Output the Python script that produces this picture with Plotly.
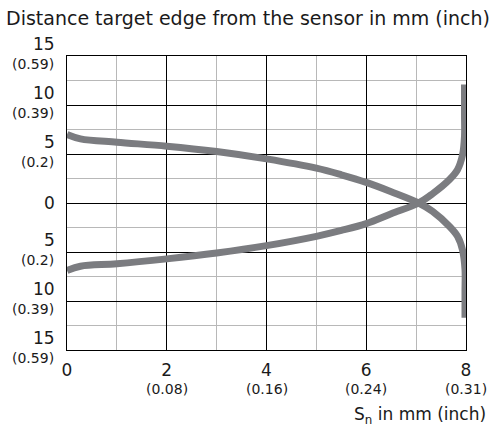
import plotly.graph_objects as go

# Curve falling from upper-left, crossing, and dropping down at x≈8
x_falling = [0, 0.27, 1, 2, 3, 4, 5, 5.5, 6, 6.5, 7.05, 7.33, 7.67, 7.83, 7.93, 7.98, 7.98, 7.98]
y_falling = [7.0, 6.55, 6.2, 5.8, 5.25, 4.5, 3.55, 2.88, 2.1, 1.15, 0.0, -0.85, -2.4, -3.4, -4.8, -6.8, -9.0, -11.7]

# Curve rising from lower-left, crossing, and going up at x≈8
x_rising = [0, 0.27, 1, 2, 3, 4, 5, 5.5, 6, 6.5, 7.05, 7.33, 7.67, 7.83, 7.93, 7.97, 7.97, 7.97]
y_rising = [-6.9, -6.45, -6.2, -5.7, -5.1, -4.35, -3.4, -2.8, -2.1, -1.1, 0.0, 0.95, 2.4, 3.4, 4.9, 6.8, 9.0, 12.1]

x_tick_vals = [0, 2, 4, 6, 8]
x_tick_mm = ["0", "2", "4", "6", "8"]
x_tick_inch = ["", "(0.08)", "(0.16)", "(0.24)", "(0.31)"]

y_tick_vals = [15, 10, 5, 0, -5, -10, -15]
y_tick_mm = ["15", "10", "5", "0", "5", "10", "15"]
y_tick_inch = ["(0.59)", "(0.39)", "(0.2)", "", "(0.2)", "(0.39)", "(0.59)"]

title_text = "Distance target edge from the sensor in mm (inch)"
x_title_text = "S<sub>n</sub> in mm (inch)"

FONT = "DejaVu Sans, Liberation Sans, sans-serif"
TXT = "#1a1a1a"
line_color = "#7b7c80"

fig = go.Figure()
for xs, ys in [(x_falling, y_falling), (x_rising, y_rising)]:
    fig.add_trace(go.Scatter(x=xs, y=ys, mode="lines",
                             line=dict(color=line_color, width=7, shape="spline", smoothing=1.0),
                             hoverinfo="skip", showlegend=False))

fig.update_layout(
    width=493, height=432,
    margin=dict(l=67, r=27, t=56, b=82, autoexpand=False),
    paper_bgcolor="white", plot_bgcolor="white",
    font=dict(family=FONT, size=17, color=TXT),
    showlegend=False,
    title=dict(text=title_text, x=6/493, xanchor="left", xref="container",
               y=1 - 18/432, yanchor="middle", yref="container",
               font=dict(size=19, family=FONT, color=TXT)),
)
fig.update_xaxes(
    range=[0, 8], tickvals=x_tick_vals, ticktext=x_tick_mm,
    tickfont=dict(size=17, family=FONT, color=TXT),
    showgrid=True, gridcolor="#000000", gridwidth=1,
    minor=dict(dtick=1, tick0=0, showgrid=True, gridcolor="#b8b8b8", gridwidth=1),
    showline=True, linecolor="#000000", linewidth=1, mirror=True,
    zeroline=False, ticks="", ticklabelstandoff=5, automargin=False, fixedrange=True,
)
fig.update_yaxes(
    range=[-15, 15], tickvals=y_tick_vals, showticklabels=False,
    showgrid=True, gridcolor="#000000", gridwidth=1,
    minor=dict(dtick=2.5, tick0=0, showgrid=True, gridcolor="#b8b8b8", gridwidth=1),
    showline=True, linecolor="#000000", linewidth=1, mirror=True,
    zeroline=False, ticks="", automargin=False, fixedrange=True,
)

# y-axis labels: mm value above the gridline, inch value below it
for v, mm, inch in zip(y_tick_vals, y_tick_mm, y_tick_inch):
    fig.add_annotation(text=mm, xref="paper", yref="y", x=0, y=v, xshift=-10,
                       yshift=12 if inch else 0, xanchor="right", yanchor="middle",
                       showarrow=False, font=dict(size=17, family=FONT, color=TXT))
    if inch:
        fig.add_annotation(text=inch, xref="paper", yref="y", x=0, y=v, xshift=-11,
                           yshift=-8, xanchor="right", yanchor="middle",
                           showarrow=False, font=dict(size=14, family=FONT, color=TXT))

# x-axis inch labels under the mm tick labels
for v, inch in zip(x_tick_vals, x_tick_inch):
    if inch:
        fig.add_annotation(text=inch, xref="x", yref="paper", x=v, y=0, yshift=-39,
                           xanchor="center", yanchor="middle", showarrow=False,
                           font=dict(size=14, family=FONT, color=TXT))

fig.add_annotation(text=x_title_text, xref="paper", yref="paper", x=1, y=0,
                   xshift=22, yshift=-65, xanchor="right", yanchor="middle",
                   showarrow=False, font=dict(size=17, family=FONT, color=TXT))
fig.write_html("out.html", config={"displayModeBar": False},
               post_script="document.body.style.margin='0';")
